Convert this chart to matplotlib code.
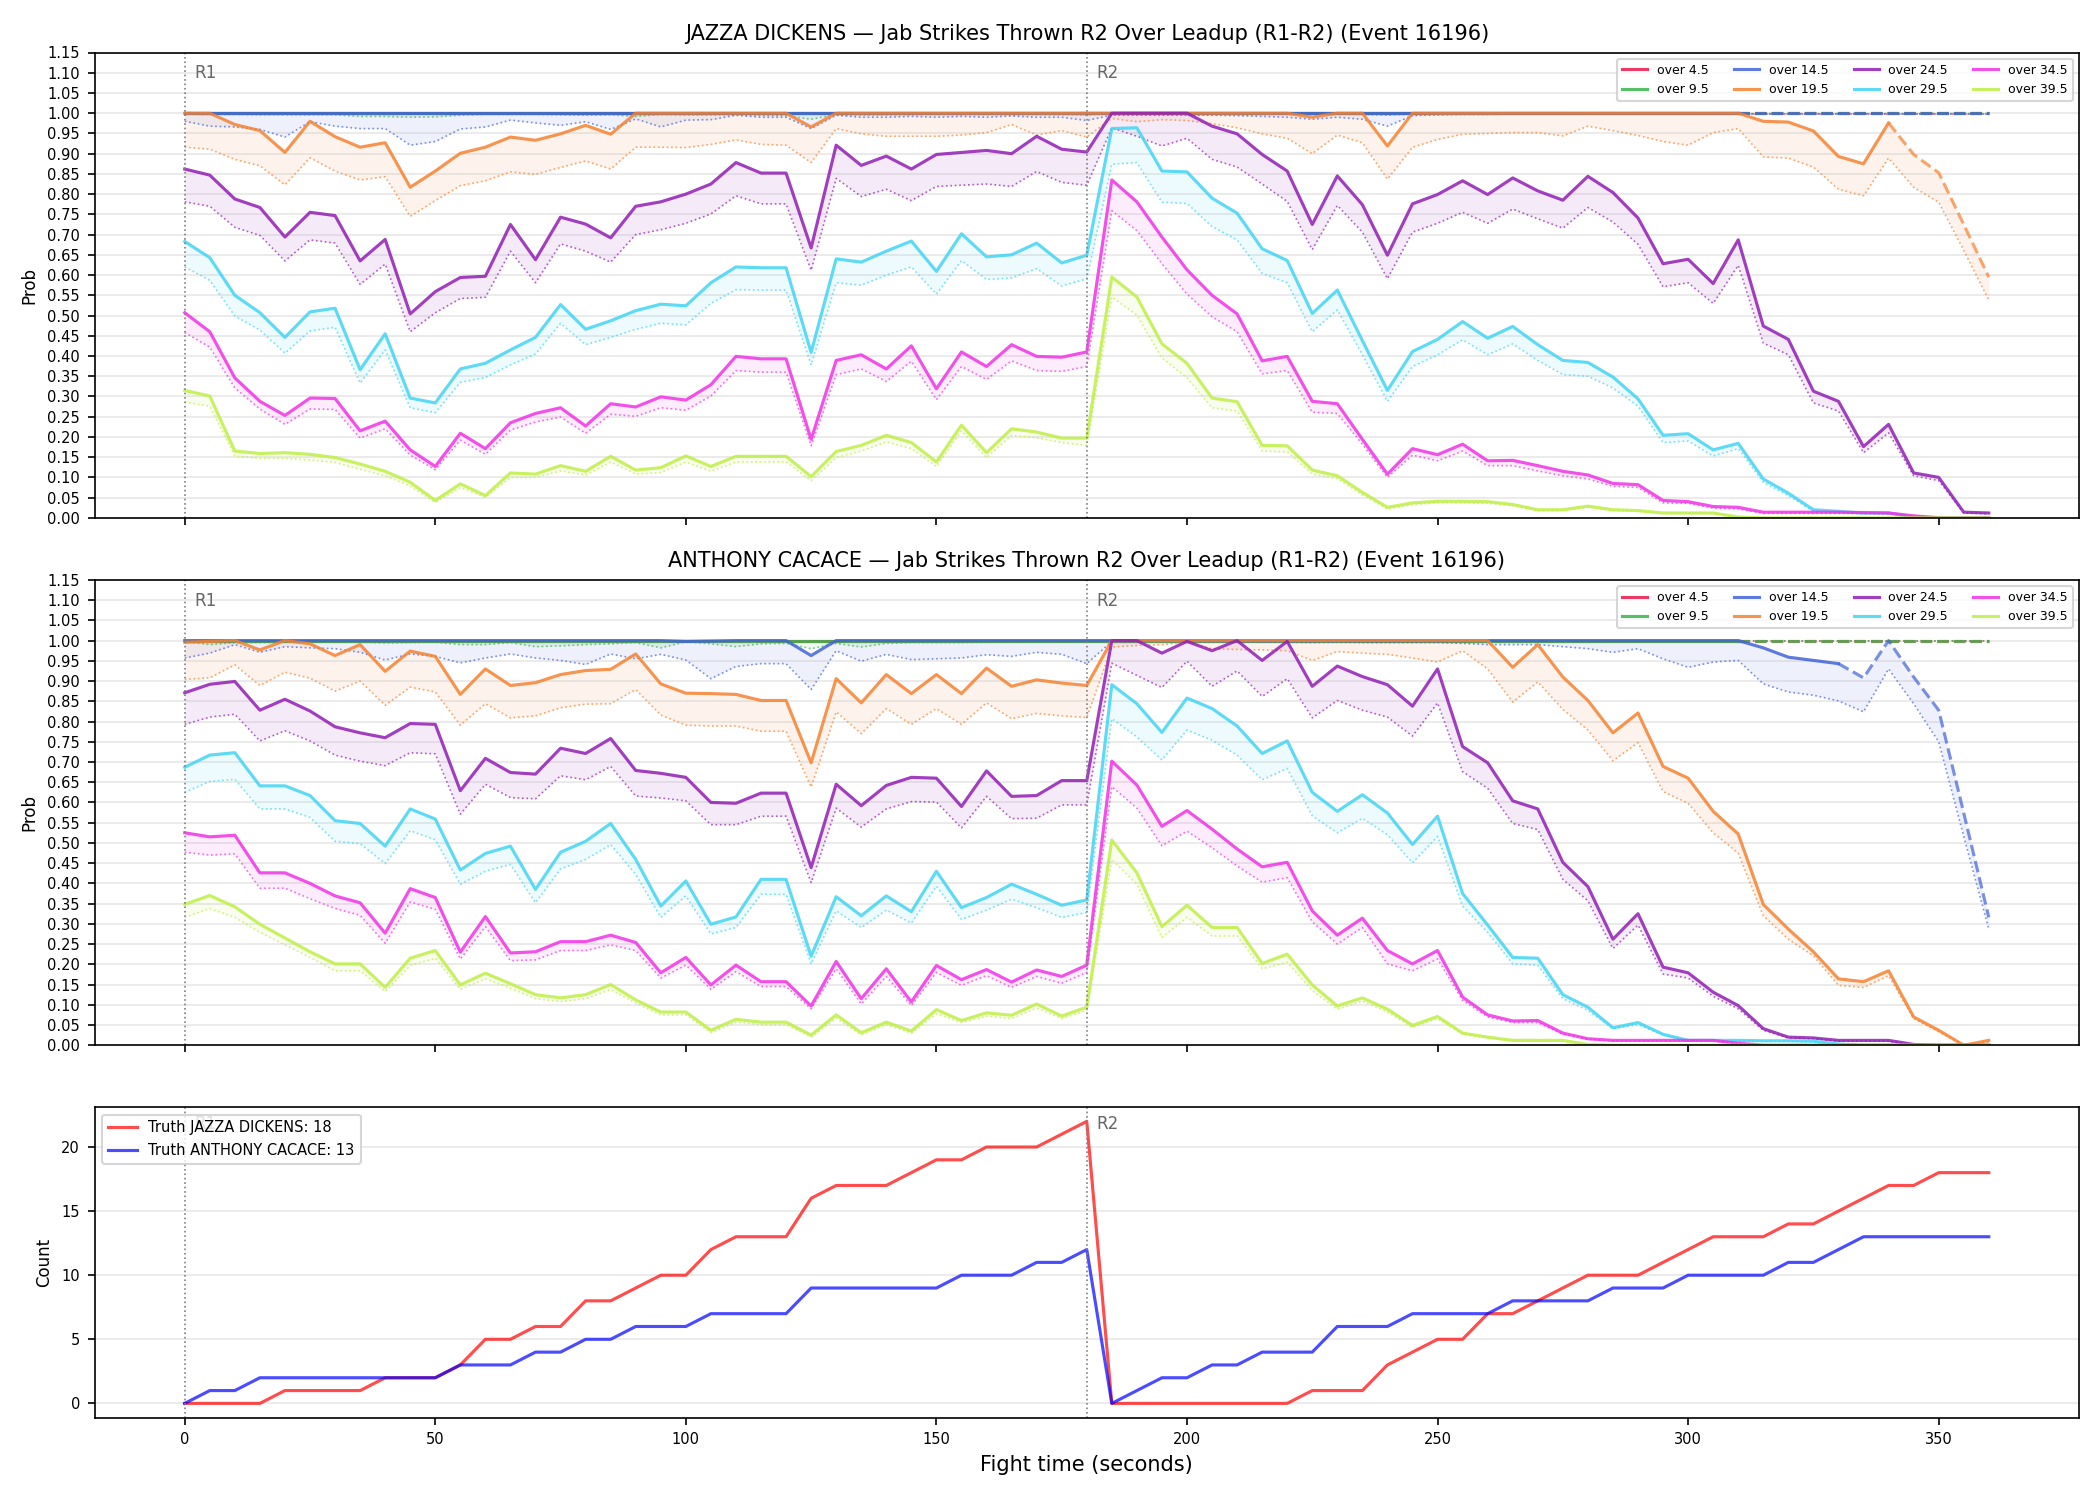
"""Jab strikes thrown R2 over-lines across the leadup (R1-R2), event 16196.

Two probability panels (one per fighter) with a main line, a dotted lower
bound and a light band between them, plus the running truth count below.
"""

import matplotlib
matplotlib.use("Agg")
import matplotlib.pyplot as plt
import matplotlib.transforms as mtransforms

FIGHTERS = ["JAZZA DICKENS", "ANTHONY CACACE"]
LINES = ["over 4.5", "over 9.5", "over 14.5", "over 19.5",
         "over 24.5", "over 29.5", "over 34.5", "over 39.5"]
ROUNDS = [(0, "R1"), (180, "R2")]
T = list(range(0, 365, 5))  # fight time, seconds (5 s snapshots)

# ---- JAZZA DICKENS ----------------------------------------------------------
JD_45 = [1.0] * 73
JD_45_LO = [0.999] * 73
JD_95 = [1.0] * 73
JD_95_LO = [0.998, 0.997, 0.997, 0.996, 0.996, 0.996, 0.996, 0.992, 0.992, 0.990,
            0.991, 0.995, 0.997, 0.997, 0.997, 0.996, 0.995, 0.996, 0.992, 0.997,
            0.996, 0.996, 0.997, 0.995, 0.994, 0.985, 0.997, 0.996, 0.996, 0.997,
            0.997, 0.997, 0.997, 0.997, 0.997, 0.997, 0.996, 0.999, 0.999, 0.999,
            0.999, 0.999, 0.999, 0.998, 0.998, 0.997, 0.998, 0.997, 0.995, 0.998,
            0.999, 0.999, 0.999, 0.999, 0.999, 0.999, 0.999, 0.999, 0.999, 0.999,
            0.999, 0.999, 0.999, 0.999, 0.999, 0.999, 0.999, 0.999, 0.999, 0.999,
            0.999, 0.999, 0.999]
JD_145 = [1.0] * 73
JD_145_LO = [0.980, 0.968, 0.966, 0.960, 0.941, 0.979, 0.968, 0.962, 0.962, 0.921,
             0.930, 0.961, 0.966, 0.983, 0.976, 0.970, 0.979, 0.960, 0.986, 0.966,
             0.983,
             0.984, 0.995, 0.990, 0.990, 0.962, 0.995, 0.990, 0.990, 0.992, 0.990,
             0.992, 0.990, 0.993, 0.990, 0.990, 0.982,
             0.995, 0.995, 0.995, 0.995, 0.995, 0.994, 0.992, 0.990, 0.985, 0.990,
             0.985, 0.968,
             0.994, 0.996, 0.997, 0.997, 0.998, 0.998, 0.998, 0.998, 0.998, 0.998,
             0.998, 0.998, 0.998, 0.998, 0.998, 0.998, 0.998, 0.998, 0.998, 0.998,
             0.998, 0.998, 0.998, 0.998]
JD_195 = [1.0, 1.0, 0.972, 0.957, 0.903, 0.980, 0.942, 0.916, 0.927, 0.817,
          0.857, 0.901, 0.916, 0.941, 0.933, 0.949, 0.970, 0.948, 1.0, 1.0, 1.0,
          1.0, 1.0, 1.0, 1.0, 0.966, 1.0, 1.0, 1.0, 1.0, 1.0, 1.0, 1.0, 1.0, 1.0,
          1.0, 1.0,
          1.0, 1.0, 1.0, 1.0, 1.0, 1.0, 1.0, 1.0, 0.990, 1.0, 1.0, 0.919,
          1.0, 1.0, 1.0, 1.0, 1.0, 1.0, 1.0, 1.0, 1.0, 1.0, 1.0, 1.0, 1.0, 1.0,
          0.980, 0.978, 0.956, 0.893, 0.875, 0.976, 0.898, 0.853, 0.725, 0.595]
JD_195_LO = [0.916, 0.911, 0.886, 0.870, 0.823, 0.890, 0.857, 0.835, 0.843, 0.745,
             0.784, 0.821, 0.833, 0.855, 0.849, 0.866, 0.882, 0.862, 0.916, 0.916,
             0.915,
             0.923, 0.934, 0.923, 0.921, 0.878, 0.962, 0.949, 0.943, 0.943, 0.943,
             0.946, 0.952, 0.972, 0.946, 0.957, 0.941,
             0.987, 0.979, 0.984, 0.982, 0.974, 0.964, 0.949, 0.938, 0.900, 0.946,
             0.927, 0.837,
             0.916, 0.935, 0.948, 0.950, 0.952, 0.952, 0.944, 0.968, 0.957, 0.945,
             0.930, 0.921, 0.952, 0.962, 0.892, 0.889, 0.867, 0.812, 0.796, 0.889,
             0.817, 0.780, 0.661, 0.538]
JD_245 = [0.862, 0.847, 0.788, 0.767, 0.694, 0.755, 0.747, 0.635, 0.688, 0.504,
          0.559, 0.594, 0.597, 0.725, 0.638, 0.743, 0.726, 0.692, 0.770, 0.781,
          0.800,
          0.825, 0.878, 0.852, 0.852, 0.667, 0.921, 0.871, 0.894, 0.862, 0.898,
          0.903, 0.908, 0.900, 0.943, 0.911, 0.904,
          1.0, 1.0, 1.0, 1.0, 0.968, 0.949, 0.898, 0.857, 0.725, 0.845, 0.774, 0.649,
          0.776, 0.799, 0.833, 0.799, 0.840, 0.808, 0.785, 0.844, 0.804, 0.741,
          0.628, 0.639, 0.579, 0.687, 0.474, 0.441, 0.313, 0.288, 0.176, 0.231,
          0.111, 0.100, 0.014, 0.012]
JD_245_LO = [0.781, 0.770, 0.718, 0.698, 0.635, 0.687, 0.679, 0.577, 0.627, 0.460,
             0.507, 0.542, 0.545, 0.659, 0.581, 0.677, 0.659, 0.632, 0.700, 0.712,
             0.728,
             0.751, 0.796, 0.776, 0.776, 0.612, 0.839, 0.794, 0.812, 0.784, 0.819,
             0.822, 0.825, 0.819, 0.856, 0.829, 0.822,
             0.964, 0.943, 0.919, 0.938, 0.886, 0.867, 0.825, 0.782, 0.663, 0.772,
             0.706, 0.591,
             0.706, 0.728, 0.755, 0.728, 0.763, 0.739, 0.716, 0.767, 0.731, 0.676,
             0.571, 0.581, 0.530, 0.624, 0.432, 0.403, 0.284, 0.264, 0.161, 0.210,
             0.104, 0.092, 0.012, 0.010]
JD_295 = [0.683, 0.643, 0.550, 0.507, 0.446, 0.509, 0.518, 0.366, 0.455, 0.296,
          0.284, 0.368, 0.382, 0.415, 0.446, 0.527, 0.466, 0.487, 0.512, 0.528,
          0.524,
          0.581, 0.620, 0.618, 0.618, 0.409, 0.640, 0.632, 0.659, 0.684, 0.609,
          0.702, 0.645, 0.650, 0.679, 0.630, 0.649,
          0.962, 0.964, 0.857, 0.855, 0.790, 0.753, 0.665, 0.636, 0.505, 0.563,
          0.438, 0.315,
          0.411, 0.441, 0.485, 0.444, 0.473, 0.428, 0.389, 0.384, 0.348, 0.294,
          0.204, 0.208, 0.168, 0.184, 0.096, 0.061, 0.020, 0.016, 0.012, 0.012,
          0.002, 0.001, 0.0, 0.0]
JD_295_LO = [0.620, 0.587, 0.499, 0.464, 0.407, 0.462, 0.471, 0.333, 0.415, 0.272,
             0.260, 0.335, 0.347, 0.378, 0.405, 0.481, 0.428, 0.446, 0.466, 0.481,
             0.477,
             0.530, 0.564, 0.563, 0.563, 0.378, 0.581, 0.575, 0.600, 0.620, 0.553,
             0.636, 0.589, 0.593, 0.616, 0.573, 0.591,
             0.874, 0.878, 0.780, 0.777, 0.720, 0.687, 0.604, 0.581, 0.460, 0.514,
             0.403, 0.288,
             0.374, 0.403, 0.440, 0.403, 0.430, 0.389, 0.354, 0.350, 0.321, 0.276,
             0.186, 0.190, 0.153, 0.171, 0.088, 0.055, 0.016, 0.012, 0.010, 0.010,
             0.001, 0.0, 0.0, 0.0]
JD_345 = [0.507, 0.460, 0.346, 0.288, 0.253, 0.296, 0.295, 0.215, 0.239, 0.168,
          0.127, 0.209, 0.171, 0.235, 0.258, 0.272, 0.227, 0.282, 0.274, 0.299,
          0.291,
          0.329, 0.399, 0.393, 0.393, 0.194, 0.389, 0.403, 0.368, 0.425, 0.319,
          0.410, 0.374, 0.428, 0.399, 0.397, 0.410,
          0.835, 0.781, 0.694, 0.613, 0.550, 0.504, 0.388, 0.399, 0.288, 0.282,
          0.194, 0.108,
          0.171, 0.156, 0.182, 0.141, 0.142, 0.129, 0.115, 0.106, 0.085, 0.082,
          0.043, 0.040, 0.028, 0.026, 0.014, 0.014, 0.014, 0.014, 0.013, 0.012,
          0.005, 0.0, 0.0, 0.0]
JD_345_LO = [0.458, 0.422, 0.321, 0.269, 0.231, 0.269, 0.268, 0.197, 0.220, 0.155,
             0.119, 0.192, 0.157, 0.217, 0.237, 0.249, 0.209, 0.256, 0.251, 0.272,
             0.266,
             0.301, 0.364, 0.360, 0.360, 0.178, 0.354, 0.368, 0.337, 0.387, 0.292,
             0.374, 0.342, 0.388, 0.364, 0.362, 0.374,
             0.759, 0.710, 0.628, 0.553, 0.497, 0.460, 0.356, 0.364, 0.261, 0.258,
             0.182, 0.100,
             0.155, 0.141, 0.165, 0.129, 0.129, 0.116, 0.104, 0.096, 0.078, 0.075,
             0.037, 0.036, 0.024, 0.022, 0.011, 0.011, 0.011, 0.011, 0.011, 0.010,
             0.004, 0.0, 0.0, 0.0]
JD_395 = [0.315, 0.301, 0.165, 0.159, 0.161, 0.157, 0.149, 0.133, 0.115, 0.088,
          0.043, 0.084, 0.055, 0.111, 0.108, 0.129, 0.115, 0.152, 0.118, 0.124,
          0.153,
          0.127, 0.152, 0.152, 0.152, 0.102, 0.164, 0.179, 0.204, 0.186, 0.138,
          0.229, 0.161, 0.220, 0.212, 0.197, 0.197,
          0.595, 0.546, 0.430, 0.382, 0.296, 0.287, 0.179, 0.178, 0.118, 0.104,
          0.063, 0.026,
          0.037, 0.041, 0.041, 0.040, 0.033, 0.020, 0.020, 0.029, 0.020, 0.018,
          0.012, 0.012, 0.012, 0.002, 0.0, 0.0, 0.0, 0.0, 0.0, 0.0,
          0.0, 0.0, 0.0, 0.0]
JD_395_LO = [0.286, 0.276, 0.153, 0.147, 0.147, 0.143, 0.137, 0.120, 0.104, 0.079,
             0.038, 0.075, 0.051, 0.100, 0.100, 0.116, 0.106, 0.138, 0.108, 0.112,
             0.138,
             0.115, 0.138, 0.138, 0.138, 0.092, 0.149, 0.165, 0.188, 0.171, 0.127,
             0.215, 0.149, 0.204, 0.198, 0.186, 0.179,
             0.546, 0.501, 0.395, 0.346, 0.272, 0.264, 0.165, 0.163, 0.108, 0.097,
             0.057, 0.022,
             0.033, 0.037, 0.037, 0.036, 0.030, 0.018, 0.018, 0.026, 0.018, 0.016,
             0.011, 0.011, 0.011, 0.002, 0.0, 0.0, 0.0, 0.0, 0.0, 0.0,
             0.0, 0.0, 0.0, 0.0]

# ---- ANTHONY CACACE ---------------------------------------------------------
AC_45 = [1.0] * 73
AC_45_LO = [0.999] * 73
AC_95 = [1.0] * 73
AC_95_LO = [0.998, 0.990, 0.995, 0.995, 0.996, 0.996, 0.996, 0.996, 0.994, 0.995,
            0.996, 0.990, 0.990, 0.995, 0.985, 0.987, 0.990, 0.992, 0.995, 0.982,
            0.997,
            0.992, 0.985, 0.992, 0.993, 0.980, 0.993, 0.984, 0.993, 0.995, 0.995,
            0.995, 0.996, 0.996, 0.996, 0.997, 0.997,
            0.999, 0.999, 0.999, 0.999, 0.999, 0.999, 0.999, 0.999, 0.999, 0.999,
            0.999, 0.999,
            0.999, 0.999, 0.999, 0.999, 0.999, 0.999, 0.999, 0.999, 0.999, 0.999,
            0.999, 0.999, 0.999, 0.999, 0.999, 0.999, 0.999, 0.999, 0.999, 0.999,
            0.999, 0.999, 0.999, 0.999]
AC_145 = [1.0, 1.0, 1.0, 1.0, 1.0, 1.0, 1.0, 1.0, 1.0, 1.0, 1.0, 1.0, 1.0, 1.0,
          1.0, 1.0, 1.0, 1.0, 1.0, 1.0, 0.998,
          0.999, 1.0, 1.0, 1.0, 0.963, 1.0, 1.0, 1.0, 1.0, 1.0, 1.0, 1.0, 1.0, 1.0,
          1.0, 1.0,
          1.0, 1.0, 1.0, 1.0, 1.0, 1.0, 1.0, 1.0, 1.0, 1.0, 1.0, 1.0,
          1.0, 1.0, 1.0, 1.0, 1.0, 1.0, 1.0, 1.0, 1.0, 1.0, 1.0, 1.0, 1.0, 1.0,
          0.982, 0.959, 0.951, 0.943, 0.908, 1.0, 0.910, 0.828, 0.574, 0.316]
AC_145_LO = [0.957, 0.969, 0.990, 0.971, 0.985, 0.982, 0.980, 0.971, 0.952, 0.967,
             0.961, 0.945, 0.957, 0.967, 0.957, 0.951, 0.941, 0.967, 0.955, 0.966,
             0.952,
             0.906, 0.936, 0.943, 0.943, 0.879, 0.975, 0.949, 0.966, 0.953, 0.955,
             0.957, 0.965, 0.961, 0.971, 0.966, 0.943,
             0.998, 0.997, 0.998, 0.998, 0.997, 0.997, 0.996, 0.996, 0.995, 0.996,
             0.995, 0.995,
             0.995, 0.995, 0.993, 0.990, 0.990, 0.990, 0.985, 0.980, 0.971, 0.980,
             0.955, 0.934, 0.947, 0.951, 0.893, 0.873, 0.865, 0.851, 0.824, 0.930,
             0.844, 0.750, 0.516, 0.287]
AC_195 = [0.996, 0.998, 1.0, 0.977, 1.0, 0.992, 0.963, 0.990, 0.924, 0.974,
          0.961, 0.867, 0.930, 0.889, 0.896, 0.916, 0.926, 0.929, 0.967, 0.893,
          0.870,
          0.869, 0.867, 0.852, 0.852, 0.698, 0.906, 0.846, 0.916, 0.869, 0.916,
          0.869, 0.932, 0.887, 0.903, 0.895, 0.889,
          1.0, 1.0, 1.0, 1.0, 1.0, 1.0, 1.0, 1.0, 1.0, 1.0, 1.0, 1.0,
          1.0, 1.0, 1.0, 1.0, 0.934, 0.990, 0.910, 0.852, 0.772, 0.821,
          0.689, 0.660, 0.578, 0.522, 0.348, 0.287, 0.231, 0.164, 0.157, 0.184,
          0.070, 0.037, 0.0, 0.012]
AC_195_LO = [0.904, 0.908, 0.940, 0.889, 0.922, 0.907, 0.875, 0.900, 0.840, 0.885,
             0.873, 0.791, 0.844, 0.809, 0.814, 0.834, 0.843, 0.844, 0.879, 0.816,
             0.791,
             0.789, 0.789, 0.776, 0.776, 0.638, 0.824, 0.770, 0.832, 0.793, 0.832,
             0.793, 0.846, 0.807, 0.820, 0.814, 0.810,
             0.984, 0.988, 0.990, 0.996, 0.980, 0.978, 0.977, 0.975, 0.951, 0.973,
             0.969, 0.966,
             0.957, 0.947, 0.975, 0.930, 0.848, 0.898, 0.830, 0.779, 0.703, 0.748,
             0.627, 0.598, 0.525, 0.475, 0.320, 0.262, 0.221, 0.148, 0.143, 0.172,
             0.066, 0.033, 0.0, 0.008]
AC_245 = [0.871, 0.892, 0.899, 0.828, 0.855, 0.826, 0.787, 0.772, 0.760, 0.795,
          0.793, 0.629, 0.709, 0.674, 0.670, 0.734, 0.721, 0.758, 0.679, 0.672,
          0.662,
          0.600, 0.598, 0.623, 0.623, 0.439, 0.645, 0.592, 0.642, 0.662, 0.660,
          0.590, 0.678, 0.615, 0.617, 0.654, 0.654,
          1.0, 1.0, 0.969, 0.998, 0.975, 1.0, 0.951, 0.998, 0.887, 0.937, 0.911,
          0.891,
          0.838, 0.930, 0.738, 0.698, 0.604, 0.584, 0.452, 0.392, 0.262, 0.325,
          0.193, 0.179, 0.131, 0.098, 0.041, 0.020, 0.018, 0.012, 0.012, 0.012,
          0.002, 0.0, 0.0, 0.0]
AC_245_LO = [0.793, 0.811, 0.818, 0.752, 0.777, 0.752, 0.717, 0.702, 0.691, 0.723,
             0.720, 0.571, 0.645, 0.612, 0.609, 0.666, 0.656, 0.689, 0.616, 0.611,
             0.604,
             0.545, 0.545, 0.566, 0.566, 0.402, 0.586, 0.539, 0.584, 0.602, 0.601,
             0.537, 0.615, 0.560, 0.561, 0.594, 0.594,
             0.944, 0.914, 0.884, 0.949, 0.887, 0.925, 0.862, 0.906, 0.809, 0.852,
             0.828, 0.811,
             0.764, 0.846, 0.676, 0.635, 0.548, 0.533, 0.410, 0.357, 0.239, 0.297,
             0.176, 0.166, 0.121, 0.090, 0.037, 0.018, 0.016, 0.010, 0.010, 0.010,
             0.0, 0.0, 0.0, 0.0]
AC_295 = [0.687, 0.717, 0.723, 0.641, 0.641, 0.617, 0.555, 0.548, 0.492, 0.584,
          0.559, 0.433, 0.474, 0.492, 0.385, 0.477, 0.504, 0.548, 0.459, 0.344,
          0.406,
          0.299, 0.317, 0.410, 0.410, 0.220, 0.367, 0.320, 0.369, 0.330, 0.430,
          0.340, 0.365, 0.398, 0.373, 0.346, 0.359,
          0.891, 0.844, 0.773, 0.858, 0.832, 0.789, 0.721, 0.752, 0.625, 0.578,
          0.619, 0.574,
          0.496, 0.566, 0.375, 0.297, 0.217, 0.215, 0.125, 0.094, 0.043, 0.056,
          0.027, 0.012, 0.012, 0.012, 0.011, 0.011, 0.010, 0.003, 0.0, 0.0,
          0.0, 0.0, 0.0, 0.0]
AC_295_LO = [0.625, 0.652, 0.657, 0.584, 0.584, 0.563, 0.504, 0.498, 0.449, 0.530,
             0.508, 0.398, 0.430, 0.447, 0.352, 0.436, 0.459, 0.496, 0.422, 0.316,
             0.369,
             0.275, 0.291, 0.373, 0.373, 0.201, 0.332, 0.291, 0.334, 0.302, 0.393,
             0.311, 0.334, 0.361, 0.340, 0.316, 0.328,
             0.807, 0.762, 0.705, 0.779, 0.754, 0.717, 0.656, 0.684, 0.567, 0.525,
             0.561, 0.520,
             0.451, 0.516, 0.344, 0.279, 0.201, 0.198, 0.115, 0.086, 0.041, 0.051,
             0.025, 0.011, 0.011, 0.011, 0.010, 0.010, 0.008, 0.002, 0.0, 0.0,
             0.0, 0.0, 0.0, 0.0]
AC_345 = [0.525, 0.515, 0.519, 0.426, 0.426, 0.400, 0.369, 0.352, 0.277, 0.387,
          0.365, 0.230, 0.318, 0.228, 0.231, 0.256, 0.256, 0.272, 0.254, 0.179,
          0.217,
          0.149, 0.198, 0.157, 0.157, 0.097, 0.207, 0.115, 0.189, 0.107, 0.197,
          0.162, 0.187, 0.156, 0.186, 0.170, 0.198,
          0.702, 0.643, 0.541, 0.580, 0.534, 0.485, 0.441, 0.452, 0.332, 0.272,
          0.314, 0.234,
          0.201, 0.234, 0.119, 0.075, 0.060, 0.061, 0.030, 0.016, 0.012, 0.012,
          0.012, 0.012, 0.012, 0.005, 0.0, 0.0, 0.0, 0.0, 0.0, 0.0,
          0.0, 0.0, 0.0, 0.0]
AC_345_LO = [0.477, 0.470, 0.473, 0.388, 0.388, 0.362, 0.338, 0.321, 0.252, 0.354,
             0.336, 0.213, 0.293, 0.209, 0.211, 0.234, 0.234, 0.248, 0.234, 0.166,
             0.198,
             0.138, 0.182, 0.145, 0.145, 0.090, 0.189, 0.102, 0.170, 0.098, 0.180,
             0.148, 0.172, 0.143, 0.170, 0.153, 0.180,
             0.639, 0.586, 0.493, 0.529, 0.488, 0.443, 0.403, 0.414, 0.305, 0.250,
             0.291, 0.201,
             0.184, 0.213, 0.111, 0.070, 0.056, 0.056, 0.027, 0.015, 0.011, 0.011,
             0.011, 0.011, 0.011, 0.004, 0.0, 0.0, 0.0, 0.0, 0.0, 0.0,
             0.0, 0.0, 0.0, 0.0]
AC_395 = [0.348, 0.370, 0.342, 0.299, 0.265, 0.231, 0.201, 0.201, 0.143, 0.215,
          0.234, 0.149, 0.178, 0.152, 0.125, 0.117, 0.125, 0.150, 0.112, 0.082,
          0.082,
          0.037, 0.064, 0.057, 0.057, 0.025, 0.075, 0.031, 0.057, 0.035, 0.088,
          0.061, 0.080, 0.074, 0.102, 0.072, 0.094,
          0.507, 0.426, 0.293, 0.346, 0.291, 0.291, 0.202, 0.225, 0.149, 0.097,
          0.117, 0.089,
          0.049, 0.071, 0.030, 0.020, 0.012, 0.012, 0.012, 0.002, 0.0, 0.0,
          0.0, 0.0, 0.0, 0.0, 0.0, 0.0, 0.0, 0.0, 0.0, 0.0,
          0.0, 0.0, 0.0, 0.0]
AC_395_LO = [0.316, 0.338, 0.316, 0.279, 0.248, 0.217, 0.184, 0.184, 0.133, 0.197,
             0.215, 0.138, 0.164, 0.141, 0.115, 0.108, 0.115, 0.138, 0.104, 0.075,
             0.075,
             0.031, 0.057, 0.051, 0.051, 0.020, 0.067, 0.026, 0.051, 0.030, 0.078,
             0.056, 0.072, 0.066, 0.092, 0.066, 0.086,
             0.459, 0.398, 0.266, 0.316, 0.270, 0.270, 0.189, 0.205, 0.135, 0.089,
             0.109, 0.082,
             0.044, 0.066, 0.027, 0.018, 0.010, 0.010, 0.010, 0.001, 0.0, 0.0,
             0.0, 0.0, 0.0, 0.0, 0.0, 0.0, 0.0, 0.0, 0.0, 0.0,
             0.0, 0.0, 0.0, 0.0]

# ---- running truth counts (reset at the start of R2) ------------------------
JD_TRUTH = [0, 0, 0, 0, 1, 1, 1, 1, 2, 2, 2, 3, 5, 5, 6, 6, 8, 8, 9, 10, 10,
            12, 13, 13, 13, 16, 17, 17, 17, 18, 19, 19, 20, 20, 20, 21, 22,
            0, 0, 0, 0, 0, 0, 0, 0, 1, 1, 1, 3,
            4, 5, 5, 7, 7, 8, 9, 10, 10, 10, 11, 12, 13, 13, 13, 14, 14, 15, 16,
            17, 17, 18, 18, 18]
AC_TRUTH = [0, 1, 1, 2, 2, 2, 2, 2, 2, 2, 2, 3, 3, 3, 4, 4, 5, 5, 6, 6, 6,
            7, 7, 7, 7, 9, 9, 9, 9, 9, 9, 10, 10, 10, 11, 11, 12,
            0, 1, 2, 2, 3, 3, 4, 4, 4, 6, 6, 6,
            7, 7, 7, 7, 8, 8, 8, 8, 9, 9, 9, 10, 10, 10, 10, 11, 11, 12, 13,
            13, 13, 13, 13, 13]

COLORS = ["#e6194b", "#3cb44b", "#4363d8", "#f58231",
          "#911eb4", "#42d4f4", "#f032e6", "#bfef45"]
# index from which a line switches to dashed (per fighter, per line)
DASH_FROM = [{0: 62, 1: 62, 2: 62, 3: 68}, {0: 62, 1: 62, 2: 66}]

PANELS = [
    (FIGHTERS[0], [JD_45, JD_95, JD_145, JD_195, JD_245, JD_295, JD_345, JD_395],
     [JD_45_LO, JD_95_LO, JD_145_LO, JD_195_LO, JD_245_LO, JD_295_LO, JD_345_LO,
      JD_395_LO]),
    (FIGHTERS[1], [AC_45, AC_95, AC_145, AC_195, AC_245, AC_295, AC_345, AC_395],
     [AC_45_LO, AC_95_LO, AC_145_LO, AC_195_LO, AC_245_LO, AC_295_LO, AC_345_LO,
      AC_395_LO]),
]


def round_marks(ax):
    trans = mtransforms.blended_transform_factory(ax.transData, ax.transAxes)
    for x, lab in ROUNDS:
        ax.axvline(x, color="gray", ls=":", lw=0.8)
        ax.text(x + 2, 0.975, lab, transform=trans, va="top", ha="left",
                fontsize=8, color="#666666")


fig, axes = plt.subplots(3, 1, figsize=(14, 10), dpi=150, sharex=True,
                         gridspec_kw={"height_ratios": [3, 3, 2]})
fig.subplots_adjust(left=0.045, right=0.99, top=0.965, bottom=0.055, hspace=0.15)

for p, (ax, (name, mains, lows)) in enumerate(zip(axes[:2], PANELS)):
    for i, (lab, col, y, lo) in enumerate(zip(LINES, COLORS, mains, lows)):
        k = DASH_FROM[p].get(i)
        ax.fill_between(T, lo, y, color=col, alpha=0.09, lw=0)
        ax.plot(T, lo, color=col, ls=":", lw=0.8, alpha=0.7)
        if k is None:
            ax.plot(T, y, color=col, lw=1.5, alpha=0.85, label=lab)
        else:
            ax.plot(T[:k + 1], y[:k + 1], color=col, lw=1.5, alpha=0.85, label=lab)
            ax.plot(T[k:], y[k:], color=col, lw=1.5, alpha=0.7, ls="--")
    round_marks(ax)
    ax.set_ylim(0, 1.15)
    ax.set_yticks([i * 0.05 for i in range(24)])
    ax.set_yticklabels([f"{i * 0.05:.2f}" for i in range(24)])
    ax.tick_params(axis="y", labelsize=7)
    ax.set_ylabel("Prob", fontsize=8)
    ax.grid(True, axis="y", alpha=0.3)
    ax.set_title(f"{name} — Jab Strikes Thrown R2 Over Leadup (R1-R2) (Event 16196)",
                 fontsize=10)
    ax.legend(loc="upper right", ncol=4, fontsize=6)

ax = axes[2]
ax.plot(T, JD_TRUTH, color="red", lw=1.5, alpha=0.7,
        label=f"Truth {FIGHTERS[0]}: {JD_TRUTH[-1]}")
ax.plot(T, AC_TRUTH, color="blue", lw=1.5, alpha=0.7,
        label=f"Truth {FIGHTERS[1]}: {AC_TRUTH[-1]}")
round_marks(ax)
ax.set_ylabel("Count", fontsize=8)
ax.set_xlabel("Fight time (seconds)", fontsize=10)
ax.tick_params(labelsize=7)
ax.grid(True, axis="y", alpha=0.3)
ax.legend(loc="upper left", fontsize=7)

fig.savefig("out.png", dpi=150)
